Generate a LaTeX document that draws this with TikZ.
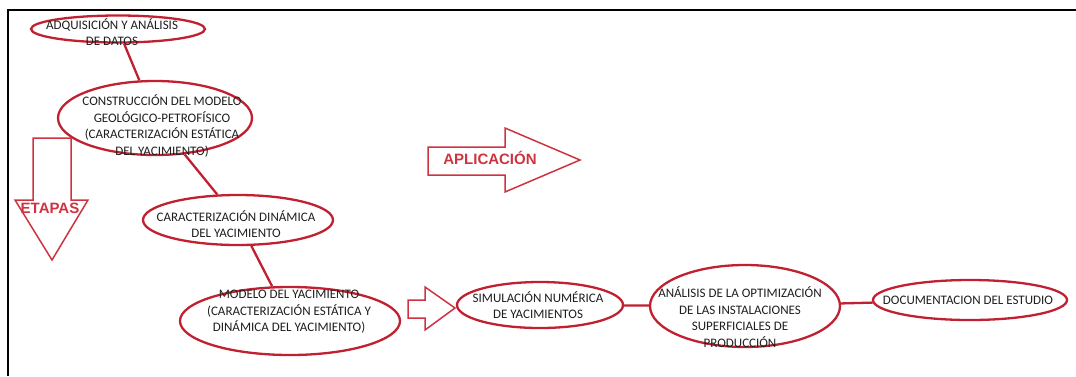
\documentclass[tikz,border=0pt]{standalone}
\usepackage{fontspec}
\setmainfont{Carlito}
\newfontfamily\arialb{Liberation Sans}[UprightFont=*-Bold]
\usetikzlibrary{shapes.geometric}
\definecolor{ered}{RGB}{192,32,48}
\definecolor{ared}{RGB}{206,52,64}
\definecolor{txt}{RGB}{30,30,30}
\begin{document}
\begin{tikzpicture}[x=1pt,y=-1pt,
  oval/.style={draw=ered,line width=2.3pt,ellipse,inner sep=0pt},
  lbl/.style={text=txt,align=center,font=\fontsize{13}{16.5}\selectfont,inner sep=0pt},
  conn/.style={draw=ered,line width=2.3pt},
  barrow/.style={draw=ared,line width=1.5pt,line join=miter,fill=white},
  big/.style={text=ared,font=\arialb\fontsize{15}{17}\selectfont,inner sep=0pt}]
\useasboundingbox (0,0) rectangle (1076,376);
% frame
\draw[line width=2.6pt,black] (8,376) -- (8,10) -- (1076,10);
% ovals
\node[oval,minimum width=174pt,minimum height=27pt] (e1) at (118,29) {};
\node[oval,minimum width=194pt,minimum height=74pt] (e2) at (155,118) {};
\node[oval,minimum width=190pt,minimum height=50pt] (e3) at (238,220) {};
\node[oval,minimum width=220pt,minimum height=68pt] (e4) at (290,321) {};
\node[oval,minimum width=166pt,minimum height=46pt] (e5) at (540,305) {};
\node[oval,minimum width=190pt,minimum height=82pt] (e6) at (745,306) {};
\node[oval,minimum width=194pt,minimum height=40pt] (e7) at (970,300) {};
% connectors
\draw[conn] (e1) -- (e2);
\draw[conn] (e2) -- (e3);
\draw[conn] (e3) -- (e4);
\draw[conn] (e5) -- (e6);
\draw[conn] (e6) -- (e7);
% block arrows
\draw[barrow] (33,138) -- (71,138) -- (71,200) -- (88,200) -- (52,260) -- (15,200) -- (33,200) -- cycle;
\draw[barrow] (428,147) -- (505,147) -- (505,128) -- (580,160) -- (505,192) -- (505,175) -- (428,175) -- cycle;
\draw[barrow] (408,300) -- (425,300) -- (425,287) -- (455,308) -- (425,330) -- (425,318) -- (408,318) -- cycle;
% labels
\node[lbl] (t1) at (112,32) {ADQUISICIÓN Y ANÁLISIS\\DE DATOS};
\node[lbl] (t2) at (162,126) {CONSTRUCCIÓN DEL MODELO\\GEOLÓGICO-PETROFÍSICO\\(CARACTERIZACIÓN ESTÁTICA\\DEL YACIMIENTO)};
\node[lbl] (t3) at (236,224) {CARACTERIZACIÓN DINÁMICA\\DEL YACIMIENTO};
\node[lbl] (t4) at (289,312) {MODELO DEL YACIMIENTO\\(CARACTERIZACIÓN ESTÁTICA Y\\DINÁMICA DEL YACIMIENTO)};
\node[lbl] (t5) at (538,305) {SIMULACIÓN NUMÉRICA\\DE YACIMIENTOS};
\node[lbl] (t6) at (740,317) {ANÁLISIS DE LA OPTIMIZACIÓN\\DE LAS INSTALACIONES\\SUPERFICIALES DE\\PRODUCCIÓN};
\node[lbl] (t7) at (968,300) {DOCUMENTACION DEL ESTUDIO};
\node[big] (etapas) at (50,208) {ETAPAS};
\node[big] (aplic) at (490,158) {APLICACIÓN};
\end{tikzpicture}
\end{document}
